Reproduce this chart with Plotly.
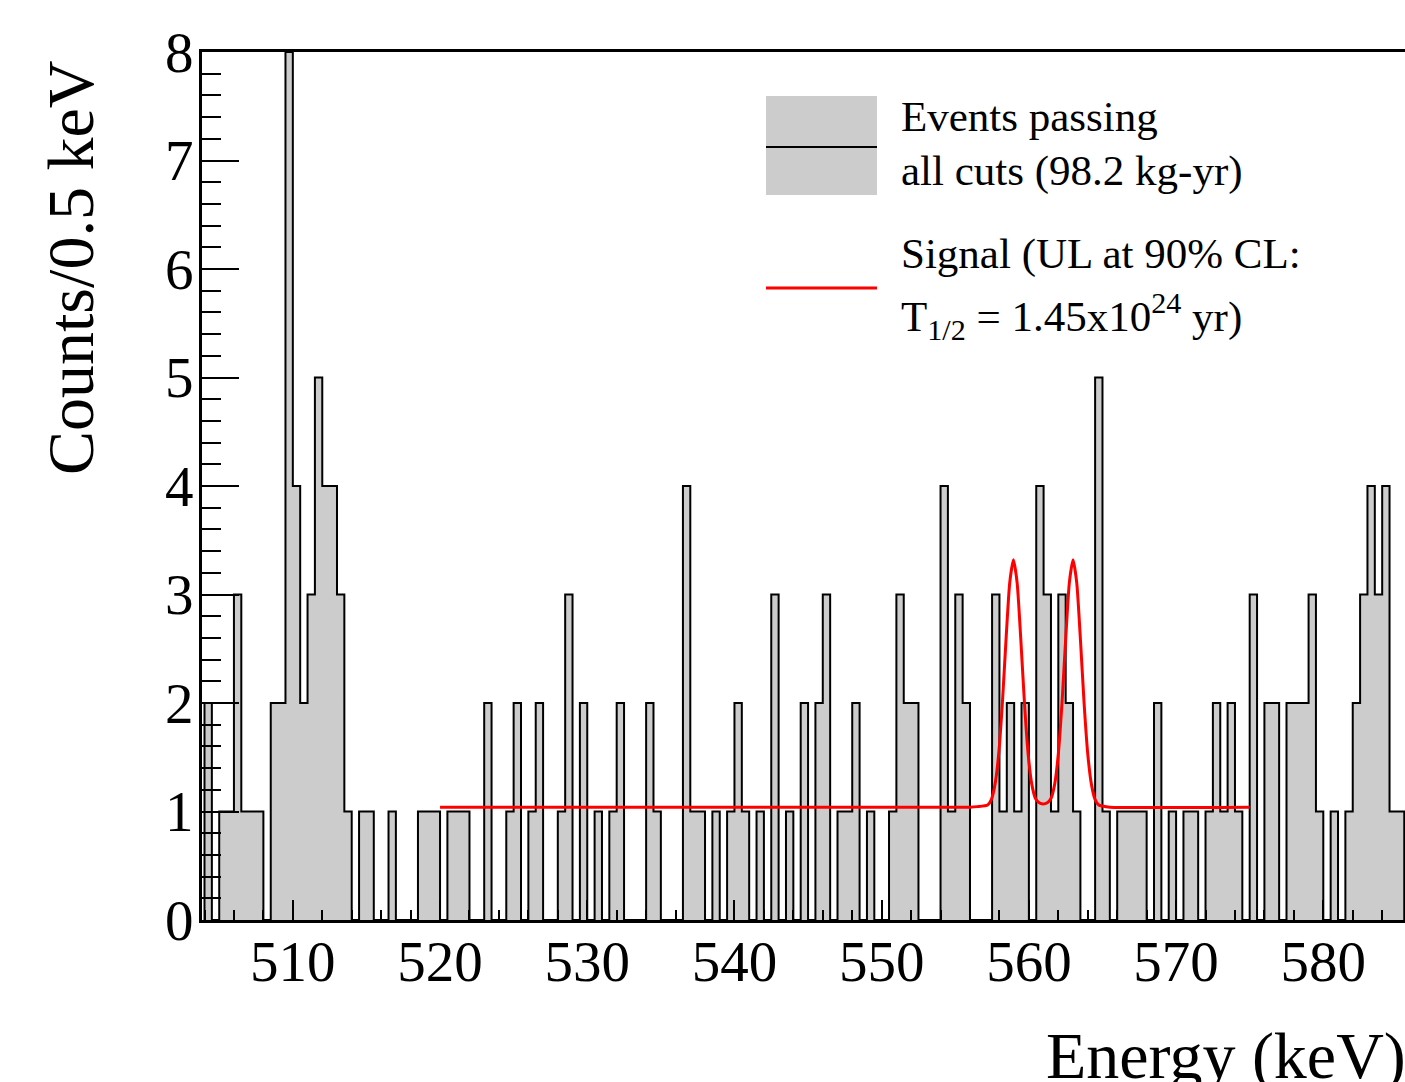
import numpy as np
import plotly.graph_objects as go

# Events passing all cuts, 0.5 keV bins starting at 504 keV
bin_start = 504.0
bin_width = 0.5
counts = [
    2, 0, 1, 1, 3, 1, 1, 1, 0, 2, 2, 8, 4, 2, 3, 5, 4, 4, 3, 1,   # 504-514
    0, 1, 1, 0, 0, 1, 0, 0, 0, 1, 1, 1, 0, 1, 1, 1, 0, 0, 2, 0,   # 514-524
    0, 1, 2, 0, 1, 2, 0, 0, 1, 3, 0, 2, 0, 1, 0, 1, 2, 0, 0, 0,   # 524-534
    2, 1, 0, 0, 0, 4, 1, 1, 0, 1, 0, 1, 2, 1, 0, 1, 0, 3, 0, 1,   # 534-544
    0, 2, 0, 2, 3, 0, 1, 1, 2, 0, 1, 0, 0, 1, 3, 2, 2, 0, 0, 0,   # 544-554
    4, 1, 3, 2, 0, 0, 0, 3, 1, 2, 1, 2, 0, 4, 3, 1, 3, 2, 1, 0,   # 554-564
    0, 5, 1, 0, 1, 1, 1, 1, 0, 2, 0, 1, 0, 1, 1, 0, 1, 2, 1, 2,   # 564-574
    1, 0, 3, 0, 2, 2, 0, 2, 2, 2, 3, 1, 0, 1, 0, 1, 2, 3, 4, 3,   # 574-584
    4, 1, 1, 0,                                                   # 584-586
]

# Signal curve (UL at 90% CL)
signal_energy = [
    520.0, 556.0, 556.5, 557.2, 557.45, 557.7, 557.95, 558.2, 558.45, 558.7,
    558.95, 559.2, 559.45, 559.7, 559.95, 560.2, 560.45, 560.7, 560.95, 561.25,
    561.5, 561.75, 562.0, 562.25, 562.5, 562.75, 563.0, 563.25, 563.5, 563.75,
    564.0, 564.25, 564.5, 564.75, 565.0, 565.5, 575.0,
]
signal_counts = [
    1.04, 1.04, 1.045, 1.06, 1.11, 1.25, 1.53, 2.00, 2.59, 3.11,
    3.32, 3.11, 2.59, 2.00, 1.53, 1.25, 1.12, 1.08, 1.07, 1.08,
    1.12, 1.25, 1.53, 2.00, 2.59, 3.11, 3.32, 3.11, 2.59, 2.00,
    1.53, 1.25, 1.11, 1.06, 1.05, 1.04, 1.04,
]

x_ticks = [510, 520, 530, 540, 550, 560, 570, 580]

# step outline of the histogram
lo = bin_start + bin_width * np.arange(len(counts))
x_step = np.concatenate([[lo[0]], lo, [lo[-1] + bin_width]])
y_step = np.concatenate([[0], counts, [0]])

W, H = 1405, 1082
L, T, B = 202, 52, 920
FONT = "Liberation Serif"


def px(x):
    return (x - L) / (W - L)


def py(y):
    return (B - y) / (B - T)


fig = go.Figure()

fig.add_trace(go.Scatter(
    x=x_step, y=y_step,
    mode="lines", line=dict(shape="hv", color="black", width=2),
    fill="tozeroy", fillcolor="#cccccc",
    hoverinfo="skip", showlegend=False,
))

fig.add_trace(go.Scatter(
    x=signal_energy, y=signal_counts,
    mode="lines", line=dict(color="#ff0000", width=3, shape="spline", smoothing=0.6),
    showlegend=False,
))

# legend drawn by hand, ROOT style
fig.add_shape(type="rect", xref="paper", yref="paper",
              x0=px(766), x1=px(877), y0=py(195), y1=py(96),
              fillcolor="#cccccc", line=dict(width=0))
fig.add_shape(type="line", xref="paper", yref="paper",
              x0=px(766), x1=px(877), y0=py(147), y1=py(147),
              line=dict(color="black", width=2))
fig.add_shape(type="line", xref="paper", yref="paper",
              x0=px(766), x1=px(877), y0=py(288), y1=py(288),
              line=dict(color="#ff0000", width=3))

legend_lines = [
    ("Events passing", 116),
    ("all cuts (98.2 kg-yr)", 171),
    ("Signal (UL at 90% CL:", 254),
    ("T<sub>1/2</sub> = 1.45x10<sup>24</sup> yr)", 316),
]
for txt, yc in legend_lines:
    fig.add_annotation(text=txt, xref="paper", yref="paper",
                       x=px(899), y=py(yc), xanchor="left", yanchor="middle",
                       showarrow=False, font=dict(family=FONT, size=43, color="black"))

fig.add_annotation(text="Counts/0.5 keV", xref="paper", yref="paper",
                   x=px(70), y=py(268), xanchor="center", yanchor="middle",
                   textangle=-90, showarrow=False,
                   font=dict(family=FONT, size=66, color="black"))
fig.add_annotation(text="Energy (keV)", xref="paper", yref="paper",
                   x=px(1408), y=py(1056), xanchor="right", yanchor="middle",
                   showarrow=False, font=dict(family=FONT, size=66, color="black"))

fig.update_layout(
    width=W, height=H,
    margin=dict(l=L, r=0, t=T, b=H - B, pad=0),
    plot_bgcolor="white", paper_bgcolor="white",
    font=dict(family=FONT, color="black"),
    xaxis=dict(
        range=[503.83, 585.55], showgrid=False, zeroline=False,
        showline=True, linecolor="black", linewidth=3, mirror=True,
        ticks="inside", ticklen=20, tickwidth=2, tickcolor="black",
        tickvals=x_ticks, ticklabelstandoff=-10,
        tickfont=dict(family=FONT, size=57, color="black"),
        minor=dict(ticks="inside", ticklen=10, tickwidth=2, tickcolor="black",
                   dtick=2, tick0=500, showgrid=False),
    ),
    yaxis=dict(
        range=[0, 8], showgrid=False, zeroline=False,
        showline=True, linecolor="black", linewidth=3,
        ticks="inside", ticklen=37, tickwidth=2, tickcolor="black",
        dtick=1, tick0=0, ticklabelstandoff=-6,
        tickfont=dict(family=FONT, size=57, color="black"),
        minor=dict(ticks="inside", ticklen=19, tickwidth=2, tickcolor="black",
                   dtick=0.2, tick0=0, showgrid=False),
    ),
)

# page without the default body margin, so the figure sits at the window corner
fig.write_html("out.html", config={"displayModeBar": False},
               post_script="document.body.style.margin='0';document.body.style.overflow='hidden';")
